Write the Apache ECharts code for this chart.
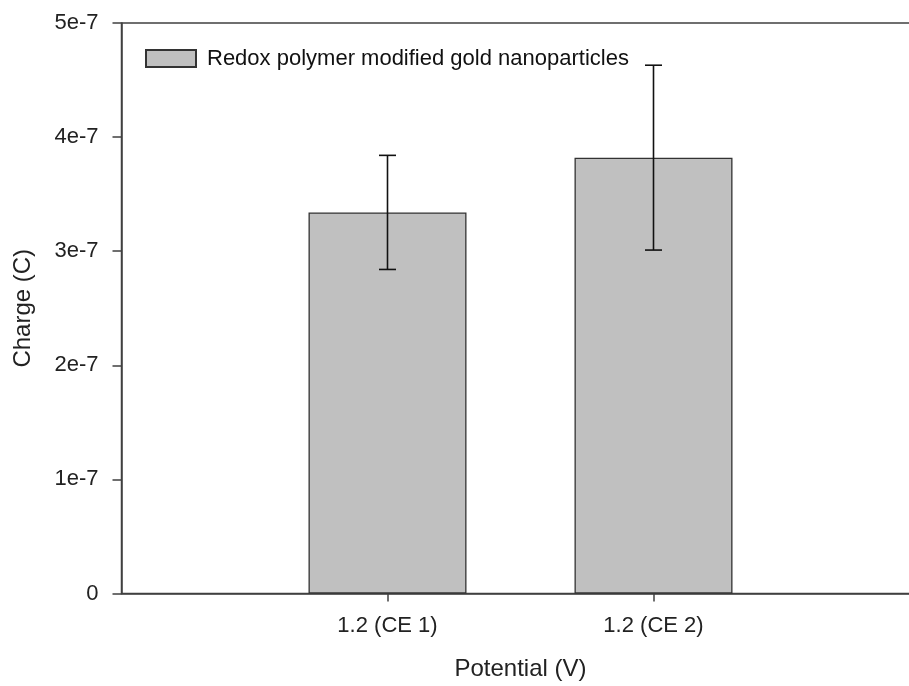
<!DOCTYPE html>
<html>
<head>
<meta charset="utf-8">
<script src="https://cdn.jsdelivr.net/npm/echarts@6/dist/echarts.min.js"></script>
<style>html,body{margin:0;padding:0;background:#fff;}#c{width:909px;height:686px;}</style>
</head>
<body>
<div id="c"></div>
<script>
const categories = ['', '1.2 (CE 1)', '1.2 (CE 2)', ''];
const charge = [null, 3.34e-7, 3.82e-7, null];
const chargeErr = [null, 0.50e-7, 0.81e-7, null];
const yTicks = ['0', '1e-7', '2e-7', '3e-7', '4e-7', '5e-7'];
const seriesName = 'Redox polymer modified gold nanoparticles';
const xTitle = 'Potential (V)';
const yTitle = 'Charge (C)';

const font = 'Liberation Sans, Arial, sans-serif';
const chart = echarts.init(document.getElementById('c'));
const errData = [];
categories.forEach((c, i) => {
  if (charge[i] != null) errData.push([i, charge[i] - chargeErr[i], charge[i] + chargeErr[i]]);
});
chart.setOption({
  animation: false,
  grid: {
    left: 121.5, width: 798, top: 23, bottom: 92.5, containLabel: false,
    outerBoundsMode: 'none',
    show: true, borderColor: '#404040', borderWidth: 1.5
  },
  legend: {
    left: 140, top: 42.5, itemWidth: 50, itemHeight: 17, itemGap: 10,
    data: [seriesName],
    textStyle: { fontFamily: font, fontSize: 22, color: '#111', padding: [0, 0, 0, 6] },
    icon: 'rect'
  },
  xAxis: {
    type: 'category', data: categories, boundaryGap: false,
    name: xTitle, nameLocation: 'middle', nameGap: 64,
    nameTextStyle: { fontFamily: font, fontSize: 24, color: '#222' },
    axisLine: { lineStyle: { color: '#404040', width: 1.5 } },
    axisTick: { length: 8, interval: (i, v) => v !== '', lineStyle: { color: '#404040', width: 1.5 } },
    axisLabel: { fontFamily: font, fontSize: 22, color: '#222', margin: 21, interval: 0 },
    splitLine: { show: false }
  },
  yAxis: {
    type: 'value', min: 0, max: 5e-7, interval: 1e-7,
    name: yTitle, nameLocation: 'middle', nameGap: 86,
    nameTextStyle: { fontFamily: font, fontSize: 24, color: '#222' },
    axisLine: { show: true, lineStyle: { color: '#404040', width: 1.5 } },
    axisTick: { show: true, length: 9, lineStyle: { color: '#404040', width: 1.5 } },
    axisLabel: {
      fontFamily: font, fontSize: 22, color: '#222', margin: 23,
      formatter: (v) => yTicks[Math.round(v / 1e-7)]
    },
    splitLine: { show: false }
  },
  series: [
    {
      name: seriesName, type: 'bar', data: charge, barWidth: 158,
      itemStyle: { color: '#c0c0c0', borderColor: '#333', borderWidth: 1.3 }
    },
    {
      type: 'custom', data: errData, z: 5, silent: true,
      renderItem: (params, api) => {
        const x = api.value(0);
        const lo = api.coord([x, api.value(1)]);
        const hi = api.coord([x, api.value(2)]);
        const hw = 8.5;
        const style = { stroke: '#111', lineWidth: 1.6 };
        return {
          type: 'group', children: [
            { type: 'line', shape: { x1: lo[0], y1: lo[1], x2: hi[0], y2: hi[1] }, style },
            { type: 'line', shape: { x1: lo[0] - hw, y1: lo[1], x2: lo[0] + hw, y2: lo[1] }, style },
            { type: 'line', shape: { x1: hi[0] - hw, y1: hi[1], x2: hi[0] + hw, y2: hi[1] }, style }
          ]
        };
      }
    }
  ]
});
</script>
</body>
</html>
